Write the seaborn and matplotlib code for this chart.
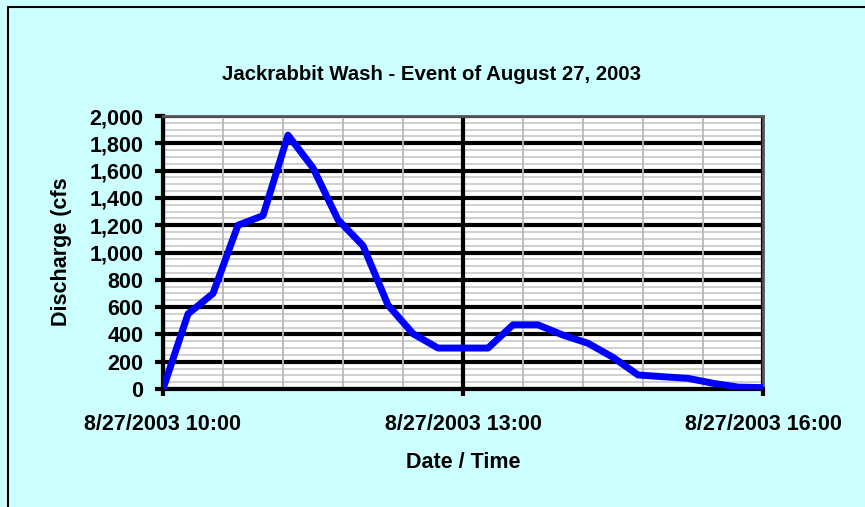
import pandas as pd
import seaborn as sns
import matplotlib.pyplot as plt
from matplotlib.ticker import MultipleLocator, FuncFormatter
from matplotlib.lines import Line2D

times = ["10:00", "10:15", "10:30", "10:45", "11:00", "11:15", "11:30", "11:45",
         "12:00", "12:15", "12:30", "12:45", "13:00", "13:15", "13:30", "13:45",
         "14:00", "14:15", "14:30", "14:45", "15:00", "15:15", "15:30", "15:45",
         "16:00"]
discharge = [0, 550, 700, 1200, 1270, 1860, 1620, 1240,
             1050, 615, 405, 300, 300, 300, 470, 470,
             395, 335, 232, 103, 90, 78, 42, 14,
             10]
major_times = ["10:00", "13:00", "16:00"]
x_tick_labels = ["8/27/2003 10:00", "8/27/2003 13:00", "8/27/2003 16:00"]
date = "2003-08-27"

BG = "#CCFFFF"

sns.set_style("white")
plt.rcParams["font.family"] = ["Liberation Sans", "DejaVu Sans"]
plt.rcParams["font.weight"] = "bold"
for key in ["text.color", "xtick.color", "ytick.color", "axes.labelcolor",
            "xtick.labelcolor", "ytick.labelcolor"]:
    plt.rcParams[key] = "black"

df = pd.DataFrame({
    "Time": pd.to_datetime([f"{date} {t}" for t in times]),
    "Discharge": discharge,
})
major = pd.to_datetime([f"{date} {t}" for t in major_times])
minor = pd.date_range(major[0], major[-1], freq="36min")

W, H = 865, 507
fig = plt.figure(figsize=(W / 100, H / 100), dpi=100, facecolor=BG)
ax = fig.add_axes([163 / W, 1 - 389 / H, 600 / W, 273 / H])
ax.set_facecolor("white")

sns.lineplot(data=df, x="Time", y="Discharge", ax=ax, color="#0000FF",
             linewidth=5, zorder=3)

ax.set_xlim(major[0], major[-1])
ax.set_ylim(0, 2000)

ax.set_xticks(major)
ax.set_xticklabels(x_tick_labels)
ax.set_xticks(minor, minor=True)
ax.yaxis.set_major_locator(MultipleLocator(200))
ax.yaxis.set_minor_locator(MultipleLocator(50))
ax.yaxis.set_major_formatter(FuncFormatter(lambda v, p: f"{int(v):,}"))

ax.grid(which="major", axis="both", color="black", linewidth=3)
ax.grid(which="minor", axis="y", color="#d0d0d0", linewidth=1.4)
ax.grid(which="minor", axis="x", color="#b8b8b8", linewidth=1.3)
ax.set_axisbelow(True)
# draw the vertical grid after the horizontal one so 13:00 stays solid
ax.xaxis.set_zorder(0.6)

ax.tick_params(axis="y", which="major", length=6, width=3, pad=8,
               labelsize=15.5, color="black", left=True)
ax.tick_params(axis="x", which="major", length=5, width=3, pad=13,
               labelsize=15.5, color="black", bottom=True)
ax.tick_params(which="minor", length=0)

for side in ["left", "bottom"]:
    ax.spines[side].set_color("black")
    ax.spines[side].set_linewidth(3)
for side in ["top", "right"]:
    ax.spines[side].set_color("#555555")
    ax.spines[side].set_linewidth(2)
    ax.spines[side].set_visible(True)

ax.set_xlabel("")
ax.set_ylabel("")
fig.text(431 / W, 1 - 75 / H, "Jackrabbit Wash - Event of August 27, 2003",
         ha="center", va="center", fontsize=14.7, fontweight="bold")
fig.text(463 / W, 1 - 462 / H, "Date / Time",
         ha="center", va="center", fontsize=15.5, fontweight="bold")
fig.text(62 / W, 1 - 252 / H, "Discharge (cfs",
         ha="center", va="center", rotation=90, fontsize=15.5, fontweight="bold")

# chart border (only top and left edges fall inside the picture)
fig.add_artist(Line2D([8 / W, 1], [1 - 7 / H, 1 - 7 / H], color="black",
                      linewidth=1.5, transform=fig.transFigure))
fig.add_artist(Line2D([8 / W, 8 / W], [0, 1 - 7 / H], color="black",
                      linewidth=1.5, transform=fig.transFigure))

fig.savefig("out.png", dpi=100, facecolor=BG)
